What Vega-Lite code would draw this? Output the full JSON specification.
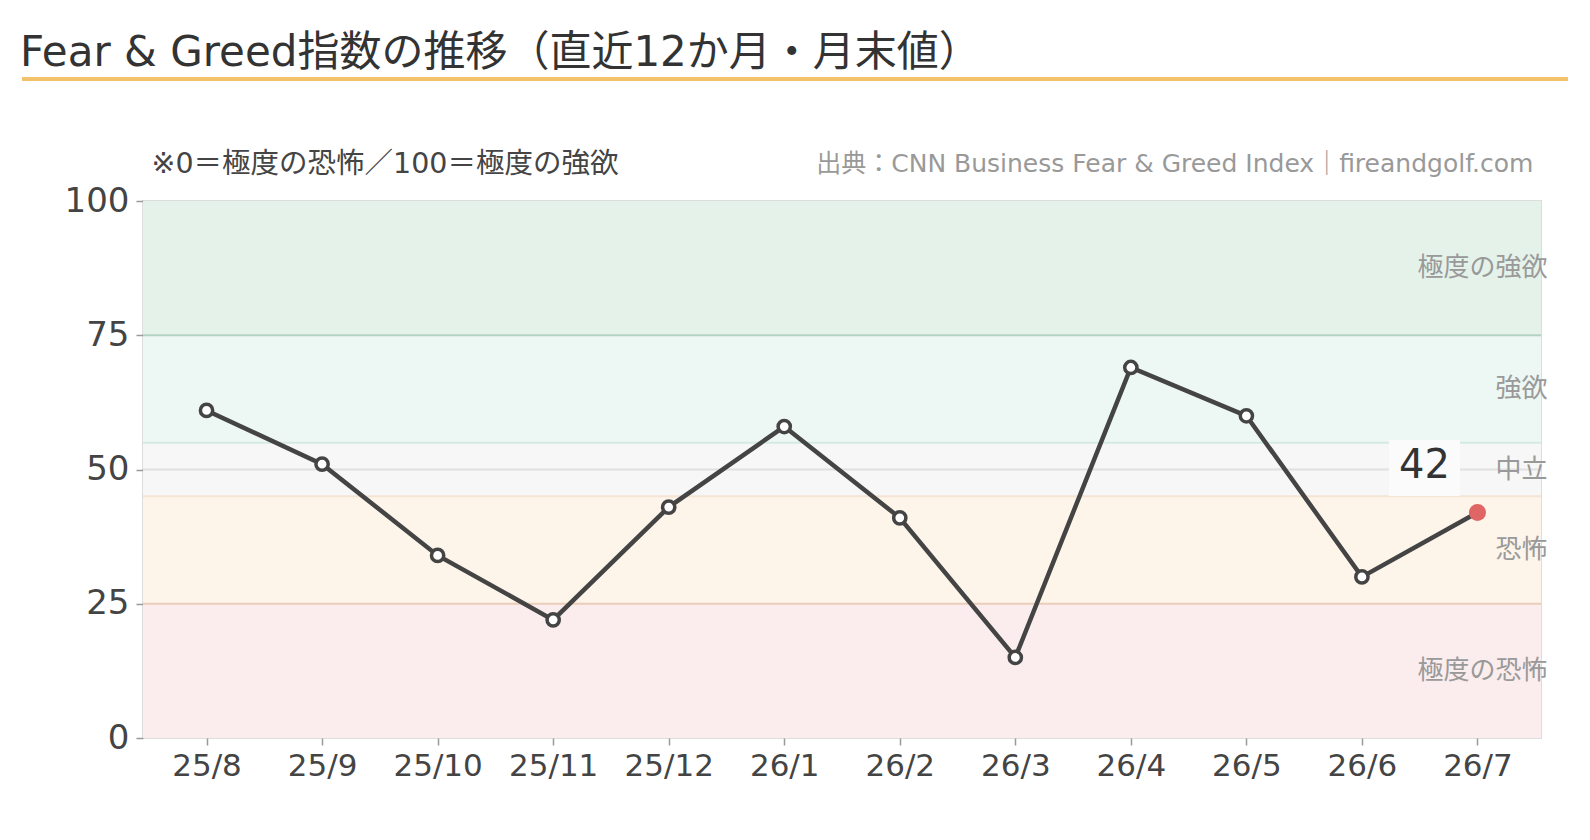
{
  "$schema": "https://vega.github.io/schema/vega-lite/v6.json",
  "width": 1398,
  "height": 537,
  "autosize": {"type": "none"},
  "padding": {"left": 143, "top": 201, "right": 49, "bottom": 102},
  "background": "white",
  "config": {
    "font": "DejaVu Sans, Noto Sans CJK JP",
    "view": {"stroke": "#dddddd", "strokeWidth": 2}
  },
  "title": {
    "text": "Fear & Greed指数の推移（直近12か月・月末値）",
    "anchor": "start",
    "frame": "bounds",
    "font": "DejaVu Sans, Noto Sans CJK JP",
    "fontSize": 42,
    "fontWeight": "normal",
    "color": "#333333",
    "baseline": "alphabetic",
    "offset": 9,
    "dy": 40
  },
  "datasets": {
    "fg": [
      {"month": "25/8", "v": 61},
      {"month": "25/9", "v": 51},
      {"month": "25/10", "v": 34},
      {"month": "25/11", "v": 22},
      {"month": "25/12", "v": 43},
      {"month": "26/1", "v": 58},
      {"month": "26/2", "v": 41},
      {"month": "26/3", "v": 15},
      {"month": "26/4", "v": 69},
      {"month": "26/5", "v": 60},
      {"month": "26/6", "v": 30},
      {"month": "26/7", "v": 42}
    ],
    "bands": [
      {"lo": 0, "hi": 25, "mid": 12.5, "name": "極度の恐怖", "fill": "#fbeded"},
      {"lo": 25, "hi": 45, "mid": 35, "name": "恐怖", "fill": "#fdf4ea"},
      {"lo": 45, "hi": 55, "mid": 50, "name": "中立", "fill": "#f7f7f7"},
      {"lo": 55, "hi": 75, "mid": 65, "name": "強欲", "fill": "#edf7f3"},
      {"lo": 75, "hi": 100, "mid": 87.5, "name": "極度の強欲", "fill": "#e4f2ea"}
    ],
    "edges": [
      {"v": 25, "c": "#ebcdb9"},
      {"v": 45, "c": "#f5e4d4"},
      {"v": 50, "c": "#e0e0e0"},
      {"v": 55, "c": "#d5ebe2"},
      {"v": 75, "c": "#b3d4c4"}
    ]
  },
  "resolve": {"scale": {"x": "independent", "y": "independent"}, "axis": {"x": "independent", "y": "independent"}},
  "layer": [
    {
      "layer": [
        {
          "data": {"name": "bands"},
          "mark": {"type": "rect"},
          "encoding": {
            "y": {"field": "lo", "type": "quantitative", "scale": {"domain": [0, 100], "nice": false}, "axis": {"values": [0, 25, 50, 75, 100], "grid": false, "domain": false, "ticks": true, "tickSize": 7, "tickColor": "#999999", "tickWidth": 1.5, "labelFontSize": 34, "labelColor": "#444444", "labelPadding": 7, "title": null}},
            "y2": {"field": "hi"},
            "color": {"field": "fill", "type": "nominal", "scale": null}
          }
        },
        {
          "data": {"name": "edges"},
          "mark": {"type": "rule", "strokeWidth": 2},
          "encoding": {
            "y": {"field": "v", "type": "quantitative"},
            "color": {"field": "c", "type": "nominal", "scale": null}
          }
        },
        {
          "data": {"name": "fg"},
          "mark": {"type": "line", "color": "#444444", "strokeWidth": 4.5},
          "encoding": {
            "x": {"field": "month", "type": "ordinal", "sort": null, "scale": {"type": "point", "padding": 0.55, "domain": ["25/8", "25/9", "25/10", "25/11", "25/12", "26/1", "26/2", "26/3", "26/4", "26/5", "26/6", "26/7"]}, "axis": {"labelAngle": 0, "labelAlign": "center", "labelBaseline": "top", "labelFontSize": 31, "labelColor": "#444444", "domain": false, "tickSize": 7, "tickColor": "#999999", "tickWidth": 1.5, "labelPadding": 6, "title": null}},
            "y": {"field": "v", "type": "quantitative"}
          }
        },
        {
          "data": {"name": "bands"},
          "mark": {"type": "text", "align": "right", "baseline": "middle", "fontSize": 26, "color": "#999999", "dx": 70},
          "encoding": {
            "x": {"datum": "26/7", "type": "ordinal", "scale": {"domain": ["25/8", "25/9", "25/10", "25/11", "25/12", "26/1", "26/2", "26/3", "26/4", "26/5", "26/6", "26/7"]}},
            "y": {"field": "mid", "type": "quantitative"},
            "text": {"field": "name"}
          }
        },
        {
          "data": {"name": "fg"},
          "transform": [{"filter": "datum.month !== '26/7'"}],
          "mark": {"type": "point", "shape": "circle", "filled": true, "fill": "white", "stroke": "#444444", "strokeWidth": 3.5, "size": 150, "opacity": 1},
          "encoding": {
            "x": {"field": "month", "type": "ordinal", "sort": null},
            "y": {"field": "v", "type": "quantitative"}
          }
        },
        {
          "data": {"name": "fg"},
          "transform": [{"filter": "datum.month === '26/7'"}],
          "mark": {"type": "point", "shape": "circle", "filled": true, "fill": "#e06666", "strokeWidth": 0, "size": 290, "opacity": 1},
          "encoding": {
            "x": {"field": "month", "type": "ordinal", "sort": null},
            "y": {"field": "v", "type": "quantitative"}
          }
        },
        {
          "data": {"name": "fg"},
          "transform": [{"filter": "datum.month === '26/7'"}],
          "mark": {"type": "point", "shape": "M -1.27 -1 L 1.27 -1 L 1.27 1 L -1.27 1 Z", "filled": true, "fill": "#fbfbfb", "strokeWidth": 0, "size": 3136, "opacity": 1, "xOffset": -53, "yOffset": -44.5},
          "encoding": {
            "x": {"field": "month", "type": "ordinal", "sort": null},
            "y": {"field": "v", "type": "quantitative"}
          }
        },
        {
          "data": {"name": "fg"},
          "transform": [{"filter": "datum.month === '26/7'"}],
          "mark": {"type": "text", "align": "center", "baseline": "middle", "fontSize": 40, "color": "#333333", "dx": -53, "dy": -46},
          "encoding": {
            "x": {"field": "month", "type": "ordinal", "sort": null},
            "y": {"field": "v", "type": "quantitative"},
            "text": {"field": "v"}
          }
        },
        {
          "data": {"values": [{"t": "※0＝極度の恐怖／100＝極度の強欲"}]},
          "mark": {"type": "text", "align": "left", "baseline": "middle", "fontSize": 28.5, "color": "#444444", "dx": -55, "dy": -37},
          "encoding": {
            "x": {"datum": "25/8", "type": "ordinal"},
            "y": {"datum": 100, "type": "quantitative"},
            "text": {"field": "t"}
          }
        },
        {
          "data": {"values": [{"t": "出典：CNN Business Fear & Greed Index｜fireandgolf.com"}]},
          "mark": {"type": "text", "align": "right", "baseline": "middle", "fontSize": 25, "color": "#999999", "dx": 56, "dy": -37},
          "encoding": {
            "x": {"datum": "26/7", "type": "ordinal"},
            "y": {"datum": 100, "type": "quantitative"},
            "text": {"field": "t"}
          }
        }
      ]
    },
    {
      "data": {"values": [{"k": 1}]},
      "mark": {"type": "rule", "color": "#f3c26b", "strokeWidth": 4},
      "encoding": {
        "x": {"datum": -121, "type": "quantitative", "scale": {"domain": [0, 1398], "nice": false, "zero": false}, "axis": null},
        "x2": {"datum": 1425},
        "y": {"datum": 122.7, "type": "quantitative", "scale": {"domain": [0, 100], "nice": false}, "axis": null}
      }
    }
  ]
}
